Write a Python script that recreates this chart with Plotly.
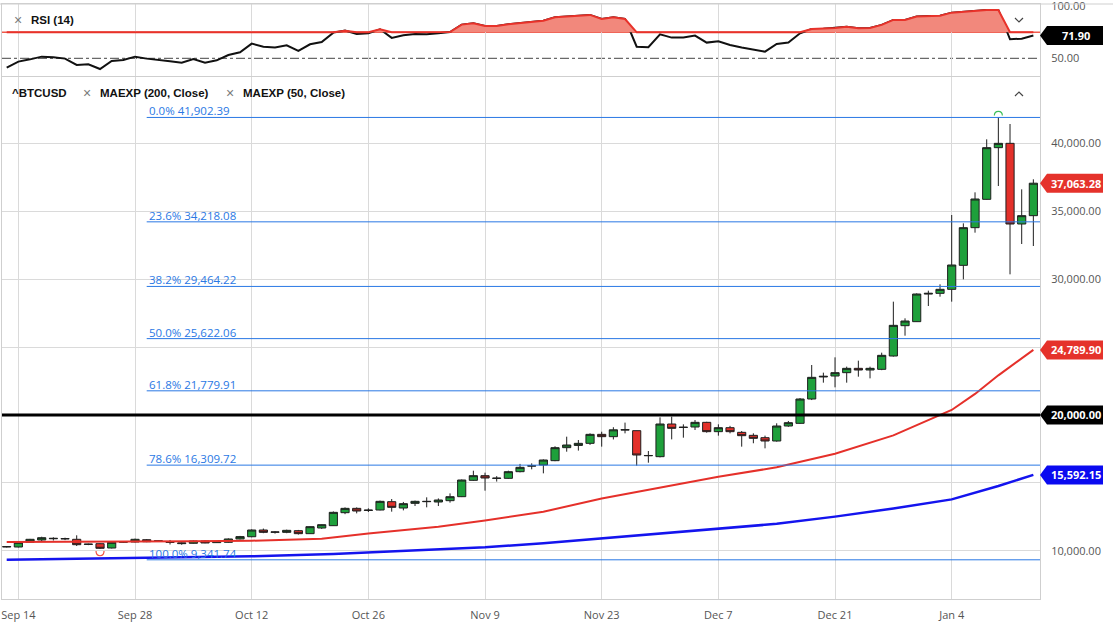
import plotly.graph_objects as go
import pandas as pd

# ------------------------------------------------------------------ data
FIRST_DAY = "2020-09-11"
LAST_DAY = "2021-01-13"
DATES = pd.bdate_range(FIRST_DAY, LAST_DAY)   # one candle per weekday

OPEN = [10290, 10283, 10630, 10800, 10890, 10880, 10850, 10470, 10527, 10210,
        10640, 10651, 10821, 10715, 10640, 10530, 10555, 10725, 10605, 10630,
        10875, 11040, 11535, 11370, 11362, 11485, 11265, 11682, 11853, 12810,
        13129, 12970, 13007, 13620, 13154, 13497, 13620, 13596, 13694, 13988,
        15191, 15534, 15330, 15338, 15828, 16240, 16320, 16638, 17595, 17760,
        17914, 18576, 18405, 18890, 18847, 17000, 16933, 19337, 19080, 19117,
        19460, 18773, 19067, 18724, 18503, 18331, 18086, 19190, 19386, 21177,
        22800, 22870, 23116, 23435, 23312, 23361, 24343, 26575, 26870, 28900,
        28955, 29250, 31017, 33789, 35875, 39678, 39997, 34059, 34673]
HIGH = [10350, 10690, 10880, 11040, 11000, 10970, 11144, 10530, 10560, 10650,
        10700, 10900, 10870, 10770, 10800, 10620, 10760, 10760, 10700, 10920,
        11100, 11580, 11640, 11450, 11560, 11540, 11800, 11950, 12900, 13200,
        13200, 13130, 13700, 13817, 13600, 13700, 13940, 13860, 14230, 15250,
        15900, 15755, 15500, 15900, 16400, 16440, 16730, 17700, 18404, 18160,
        18650, 18770, 19100, 19440, 18850, 17350, 19828, 19877, 19313, 19632,
        19500, 19313, 19200, 18820, 18650, 18480, 19390, 19560, 21250, 23680,
        23116, 24245, 23560, 24000, 23558, 24588, 28342, 27115, 28950, 29152,
        29618, 34722, 34108, 36390, 40292, 41902.39, 41420, 36611, 37350]
LOW = [10250, 10250, 10600, 10680, 10760, 10790, 10357, 10420, 10136, 10180,
       10600, 10620, 10640, 10680, 10470, 10450, 10530, 10560, 10580, 10600,
       10840, 11000, 11300, 11270, 11300, 11200, 11250, 11620, 11840, 12700,
       12760, 12860, 12980, 12884, 12980, 13300, 13203, 13300, 13550, 13960,
       15150, 14430, 15100, 15300, 15780, 16000, 15706, 16600, 17300, 17380,
       17800, 17670, 18200, 18650, 16270, 16490, 16880, 18208, 18331, 18895,
       18700, 18478, 18650, 17669, 17920, 17546, 18040, 19130, 19350, 21100,
       22380, 22036, 22380, 22821, 22698, 23300, 24300, 25839, 26850, 28023,
       28710, 28342, 29986, 33421, 35850, 36856, 30354, 32587, 32440]
CLOSE = [10310, 10630, 10850, 10968, 10920, 10900, 10453, 10495, 10188, 10629,
         10660, 10850, 10674, 10735, 10620, 10580, 10725, 10580, 10680, 10875,
         11048, 11535, 11362, 11390, 11510, 11265, 11780, 11927, 12835, 13129,
         12933, 13000, 13645, 13203, 13473, 13645, 13640, 13743, 13988, 15215,
         15534, 15362, 15350, 15828, 16147, 16260, 16687, 17595, 17791, 17914,
         18576, 18405, 18910, 18920, 17055, 17020, 19337, 19018, 19100, 19460,
         18773, 19067, 18773, 18478, 18282, 18086, 19190, 19435, 21177, 22772,
         22846, 23116, 23435, 23312, 23435, 24392, 26600, 26919, 28906, 28955,
         29250, 31041, 33789, 35899, 39678, 39997, 34059, 34673, 37063.28]

EMA50_DATES = ["2020-09-11", "2020-09-21", "2020-09-28", "2020-10-05", "2020-10-12",
               "2020-10-20", "2020-10-26", "2020-10-29", "2020-11-03", "2020-11-09",
               "2020-11-16", "2020-11-23", "2020-11-30", "2020-12-07", "2020-12-14",
               "2020-12-21", "2020-12-28", "2020-12-31", "2021-01-04", "2021-01-06",
               "2021-01-08", "2021-01-13"]
EMA50_VALUES = [10650, 10660, 10674, 10700, 10747,
                10895, 11270, 11520, 11780, 12230,
                12880, 13850, 14650, 15450, 16150,
                17150, 18500, 19600, 20370, 21550,
                22920, 24789.90]

EMA200_DATES = ["2020-09-11", "2020-09-29", "2020-10-12", "2020-10-21", "2020-10-29",
                "2020-11-09", "2020-11-16", "2020-11-23", "2020-11-30", "2020-12-07",
                "2020-12-14", "2020-12-21", "2020-12-28", "2021-01-04", "2021-01-08",
                "2021-01-13"]
EMA200_VALUES = [9350, 9490, 9600, 9770, 9980,
                 10260, 10560, 10920, 11300, 11660,
                 11990, 12520, 13120, 13790, 14770,
                 15592.15]

RSI_VALUES = [41.0, 46.8, 49.0, 51.6, 51.0, 49.7, 43.6, 44.2, 39.7, 47.4,
              48.4, 51.6, 49.7, 48.7, 47.1, 45.8, 49.4, 45.8, 48.1, 53.2,
              55.8, 64.1, 61.2, 60.3, 62.5, 57.1, 63.5, 65.7, 74.7, 76.6,
              73.4, 74.0, 77.9, 69.6, 72.1, 73.4, 73.1, 74.0, 75.3, 82.4,
              83.7, 81.1, 81.1, 82.7, 84.0, 84.6, 86.2, 89.5, 90.1, 90.7,
              91.7, 87.8, 89.4, 87.8, 61.2, 60.6, 73.1, 69.9, 69.9, 71.8,
              65.1, 66.3, 62.8, 60.3, 58.3, 56.4, 63.8, 65.1, 74.0, 78.2,
              78.5, 79.2, 80.4, 78.8, 79.2, 82.1, 86.9, 86.9, 90.1, 90.7,
              91.0, 93.9, 94.9, 95.8, 96.5, 96.5, 68.3, 68.9, 71.90]
RSI_OVERBOUGHT = 75
RSI_MID = 50

FIB_PCTS = ["0.0%", "23.6%", "38.2%", "50.0%", "61.8%", "78.6%", "100.0%"]
FIB_LEVELS = [41902.39, 34218.08, 29464.22, 25622.06, 21779.91, 16309.72, 9341.74]
FIB_START = "2020-09-29"

SUPPORT_LEVEL = 20000
HIGH_MARK_DATE = "2021-01-08"
LOW_MARK_DATE = "2020-09-23"

TICK_DATES = ["2020-09-14", "2020-09-28", "2020-10-12", "2020-10-26", "2020-11-09",
              "2020-11-23", "2020-12-07", "2020-12-21", "2021-01-04"]
PRICE_TICKS = [10000, 15000, 20000, 25000, 30000, 35000, 40000]
PRICE_TICK_TEXT = ["10,000.00", "", "", "", "30,000.00", "35,000.00", "40,000.00"]
RSI_TICKS = [50, 100]

# ------------------------------------------------------------------ style / layout
W, H = 1113, 627
X_START, X_END = "2020-09-10 14:20", "2021-01-13 13:40"
Y_RANGE = [6456, 44880]
RSI_RANGE = [33.0, 102.2]
PLOT_L, PLOT_R = 2, 1040
RSI_TOP, RSI_BOT = 4, 76
MAIN_TOP, MAIN_BOT = 77, 599


def px_x(p):
    return p / W


def px_y(p):
    return 1 - p / H


XDOM = [px_x(PLOT_L), px_x(PLOT_R)]
GRID = "#dadada"
BORDER = "#cfcfcf"
FONT = "Open Sans"
LEG_FONT = "Liberation Sans"
RED = "#e5302a"
BLUE = "#1414ee"
FIB_BLUE = "#2a78e4"

fig = go.Figure()

# RSI panel
fig.add_trace(go.Scatter(x=DATES, y=RSI_VALUES, xaxis="x2", yaxis="y2", mode="lines",
                         line=dict(color="#111111", width=2), hoverinfo="skip"))
fig.add_trace(go.Scatter(x=DATES, y=[RSI_OVERBOUGHT] * len(DATES), xaxis="x2", yaxis="y2",
                         mode="lines", line=dict(color="rgba(0,0,0,0)", width=0),
                         hoverinfo="skip"))
fig.add_trace(go.Scatter(x=DATES, y=[max(v, RSI_OVERBOUGHT) for v in RSI_VALUES],
                         xaxis="x2", yaxis="y2", mode="lines", fill="tonexty",
                         fillcolor="#f2887c", line=dict(color="#e8322a", width=2),
                         hoverinfo="skip"))

# price panel
fig.add_trace(go.Candlestick(
    x=DATES, open=OPEN, high=HIGH, low=LOW, close=CLOSE, xaxis="x", yaxis="y",
    increasing=dict(fillcolor="#1ea03b", line=dict(color="#1f1f1f", width=1)),
    decreasing=dict(fillcolor="#e3302a", line=dict(color="#1f1f1f", width=1)),
    whiskerwidth=0, hoverinfo="skip"))
fig.add_trace(go.Scatter(x=EMA200_DATES, y=EMA200_VALUES, mode="lines",
                         line=dict(color=BLUE, width=2.5), hoverinfo="skip"))
fig.add_trace(go.Scatter(x=EMA50_DATES, y=EMA50_VALUES, mode="lines",
                         line=dict(color=RED, width=2), hoverinfo="skip"))

# RSI reference lines
fig.add_shape(type="line", xref="x2 domain", yref="y2", x0=0, x1=1,
              y0=RSI_OVERBOUGHT, y1=RSI_OVERBOUGHT, line=dict(color="#ef5a4c", width=1.5),
              layer="below")
fig.add_shape(type="line", xref="x2 domain", yref="y2", x0=0, x1=1,
              y0=RSI_MID, y1=RSI_MID, line=dict(color="#444444", width=1, dash="dashdot"),
              layer="below")

# Fibonacci retracement
for pct, lvl in zip(FIB_PCTS, FIB_LEVELS):
    fig.add_shape(type="line", xref="x", yref="y", x0=FIB_START, x1=X_END, y0=lvl, y1=lvl,
                  line=dict(color=FIB_BLUE, width=1))
    fig.add_annotation(xref="x", yref="y", x=FIB_START, y=lvl, text=f"{pct} {lvl:,.2f}",
                       showarrow=False, xanchor="left", yanchor="bottom", yshift=-3,
                       font=dict(family=FONT, size=11.5, color=FIB_BLUE))

# 20k horizontal line
fig.add_shape(type="line", xref="x domain", yref="y", x0=0, x1=1,
              y0=SUPPORT_LEVEL, y1=SUPPORT_LEVEL, line=dict(color="#000000", width=3))

# high / low markers
fig.add_shape(type="path", xref="x", yref="y", xsizemode="pixel", ysizemode="pixel",
              xanchor=HIGH_MARK_DATE, yanchor=max(HIGH),
              path="M-4,2 C-4,7.5 4,7.5 4,2", line=dict(color="#3dbf5a", width=1.2))
fig.add_shape(type="path", xref="x", yref="y", xsizemode="pixel", ysizemode="pixel",
              xanchor=LOW_MARK_DATE, yanchor=min(LOW),
              path="M-4,-2 C-4,-8.3 4,-8.3 4,-2", line=dict(color="#f05040", width=1.2))


def price_tag(value, text, color, yref="y"):
    h = 9.5
    fig.add_shape(type="path", xref="paper", yref=yref, xsizemode="pixel", ysizemode="pixel",
                  xanchor=XDOM[1], yanchor=value,
                  path=f"M0,0 L7,{h} L63,{h} L63,{-h} L7,{-h} Z",
                  fillcolor=color, line=dict(width=0), layer="above")
    fig.add_annotation(xref="paper", yref=yref, x=px_x(PLOT_R + 36), y=value,
                       text=f"<b>{text}</b>", showarrow=False, xanchor="center",
                       yanchor="middle", font=dict(family=FONT, size=11, color="white"))


price_tag(CLOSE[-1], f"{CLOSE[-1]:,.2f}", "#e5322b")
price_tag(EMA50_VALUES[-1], f"{EMA50_VALUES[-1]:,.2f}", "#e5322b")
price_tag(SUPPORT_LEVEL, f"{SUPPORT_LEVEL:,.2f}", "#000000")
price_tag(EMA200_VALUES[-1], f"{EMA200_VALUES[-1]:,.2f}", "#0a0af0")
price_tag(RSI_VALUES[-1], f"{RSI_VALUES[-1]:.2f}", "#000000", yref="y2")


# panel captions
def cap(x, y, text, bold=True, color="#111111", size=11.5):
    fig.add_annotation(xref="paper", yref="paper", x=px_x(x), y=px_y(y),
                       text=f"<b>{text}</b>" if bold else text, showarrow=False,
                       xanchor="left", yanchor="middle",
                       font=dict(family=LEG_FONT, size=size, color=color))


cap(12, 20, "×", bold=False, color="#7a7a7a", size=14)
cap(29, 20, "RSI (14)")
cap(10, 93, "^BTCUSD")
cap(81, 93, "×", bold=False, color="#7a7a7a", size=14)
cap(98, 93, "MAEXP (200, Close)")
cap(224, 93, "×", bold=False, color="#7a7a7a", size=14)
cap(241, 93, "MAEXP (50, Close)")


# chevrons
def chevron(cx, cy, up):
    d = -4 if up else 4
    pts = [(cx - 4, cy - d / 2), (cx, cy + d / 2), (cx + 4, cy - d / 2)]
    path = "M" + " L".join(f"{px_x(a)},{px_y(b)}" for a, b in pts)
    fig.add_shape(type="path", xref="paper", yref="paper", path=path,
                  line=dict(color="#444444", width=1.2))


chevron(1019, 20, up=False)
chevron(1019, 94, up=True)

# top separator line across full width
fig.add_shape(type="line", xref="paper", yref="paper", x0=0, x1=1,
              y0=px_y(RSI_TOP), y1=px_y(RSI_TOP), line=dict(color=BORDER, width=1))

rb = [dict(bounds=["sat", "mon"])]
common_x = dict(type="date", rangebreaks=rb, tickvals=TICK_DATES, showgrid=True,
                gridcolor=GRID, gridwidth=1, showline=True, linecolor=BORDER, mirror=True,
                ticks="", zeroline=False, domain=XDOM, automargin=False)

fig.update_layout(
    template="none",
    width=W, height=H, margin=dict(l=0, r=0, t=0, b=0, pad=0, autoexpand=False),
    paper_bgcolor="white", plot_bgcolor="white", showlegend=False,
    hovermode=False, font=dict(family=FONT, color="#555555"),
    boxgap=0.3, boxgroupgap=0,
    xaxis=dict(**common_x, anchor="y", range=[X_START, X_END], tickformat="%b %-d",
               tickfont=dict(family=FONT, size=11, color="#555555"),
               ticklabeloverflow="allow", rangeslider=dict(visible=False),
               ticklabelstandoff=6),
    xaxis2=dict(**common_x, anchor="y2", matches="x", showticklabels=False),
    yaxis=dict(domain=[px_y(MAIN_BOT), px_y(MAIN_TOP)], anchor="x", side="right",
               range=Y_RANGE, tickvals=PRICE_TICKS, ticktext=PRICE_TICK_TEXT,
               showgrid=True, automargin=False,
               gridcolor=GRID, showline=True, linecolor=BORDER, mirror=True, ticks="",
               zeroline=False, tickfont=dict(family=FONT, size=11, color="#555555"),
               ticklabelstandoff=8, ticklabeloverflow="allow"),
    yaxis2=dict(domain=[px_y(RSI_BOT), px_y(RSI_TOP)], anchor="x2", side="right",
                range=RSI_RANGE, tickvals=RSI_TICKS, tickformat=".2f", showgrid=False,
                automargin=False,
                showline=True, linecolor=BORDER, mirror=True, ticks="", zeroline=False,
                tickfont=dict(family=FONT, size=11, color="#555555"),
                ticklabelstandoff=8, ticklabeloverflow="allow"),
)

fig.write_html("out.html")
